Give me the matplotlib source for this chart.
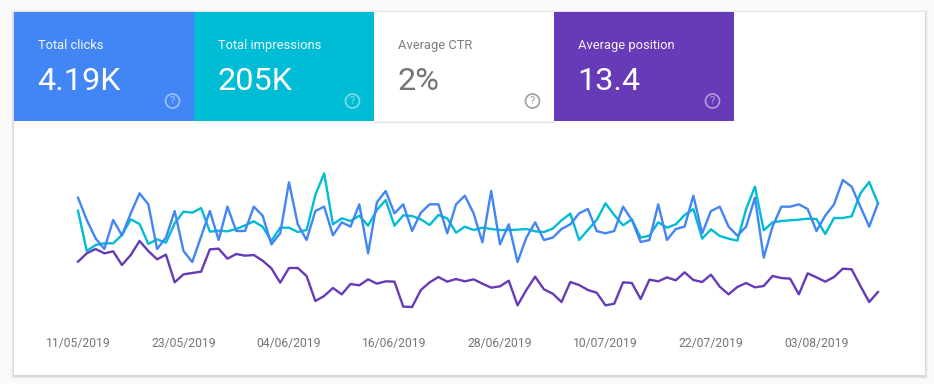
"""Search console performance card: four metric tiles over a three line chart"""
from matplotlib import pyplot as plt
from matplotlib.patches import Circle, Rectangle

plt.rcParams['font.family'] = ['Roboto', 'DejaVu Sans']

# tiles
tile_titles = ["Total clicks", "Total impressions", "Average CTR", "Average position"]
tile_values = ["4.19K", "205K", "2%", "13.4"]
tile_colors = ["#4285f4", "#00bcd4", "#ffffff", "#673ab7"]
tile_text = ["#ffffff", "#ffffff", "#757575", "#ffffff"]

# chart tick labels, one every 12 days
date_labels = ["11/05/2019", "23/05/2019", "04/06/2019", "16/06/2019",
               "28/06/2019", "10/07/2019", "22/07/2019", "03/08/2019"]

# values, in chart height units (0 to 510)
clicks = [397, 330, 275, 243, 330, 284, 350, 410, 377, 243, 277, 357, 237, 204, 280, 357,
          270, 370, 297, 297, 370, 343, 257, 290, 443, 317, 270, 357, 370, 284, 323, 310,
          377, 230, 383, 417, 350, 377, 297, 352, 377, 377, 290, 377, 403, 350, 263, 417,
          257, 317, 204, 277, 323, 270, 277, 303, 317, 350, 363, 297, 290, 297, 370, 330,
          264, 270, 377, 270, 303, 310, 403, 290, 357, 370, 310, 283, 310, 397, 217, 310,
          370, 370, 377, 363, 297, 343, 377, 450, 430, 370, 310, 380]
impressions = [358, 237, 255, 260, 260, 285, 332, 318, 258, 272, 262, 320, 355, 352, 366, 295,
               298, 296, 303, 314, 326, 310, 267, 307, 307, 294, 300, 405, 470, 317, 335, 327,
               343, 313, 360, 390, 313, 344, 342, 332, 315, 345, 335, 292, 310, 300, 307, 303,
               300, 300, 301, 303, 296, 294, 304, 329, 349, 270, 300, 330, 380, 345, 314, 332,
               277, 283, 323, 307, 317, 345, 363, 274, 302, 282, 274, 268, 363, 430, 299, 323,
               327, 329, 331, 334, 333, 288, 336, 336, 341, 410, 444, 380]
position = [205, 230, 243, 230, 236, 195, 225, 267, 237, 212, 226, 143, 167, 171, 175, 242,
            244, 214, 228, 223, 225, 208, 185, 142, 186, 186, 162, 87, 102, 126, 107, 138,
            134, 152, 139, 146, 145, 70, 69, 120, 143, 159, 145, 153, 146, 152, 139, 127,
            131, 148, 74, 120, 160, 122, 109, 84, 144, 135, 120, 112, 74, 79, 143, 141,
            93, 151, 146, 158, 149, 173, 150, 144, 166, 130, 107, 129, 141, 128, 132, 162,
            156, 154, 107, 170, 158, 145, 159, 184, 182, 132, 84, 114]

W, H = 934, 384
fig = plt.figure(figsize=(W / 100, H / 100), dpi=100, facecolor="#fafafa")

# pixel layer for the card and the tiles
bg = fig.add_axes([0, 0, 1, 1])
bg.set_xlim(0, W)
bg.set_ylim(H, 0)
bg.axis("off")

# soft card shadow
for grow, shade in [(3, "#f3f3f3"), (2, "#e9e9e9"), (1, "#d8d8d8")]:
    bg.add_patch(Rectangle((14 - grow, 12 - grow + 1), 911 + 2 * grow, 363 + 2 * grow,
                           color=shade, lw=0))
bg.add_patch(Rectangle((14, 12), 911, 363, color="white", lw=0))
bg.plot([374, 554], [121.5, 121.5], color="#e0e0e0", lw=1)

for i, title in enumerate(tile_titles):
    left = 14 + 180 * i
    bg.add_patch(Rectangle((left, 12), 180, 109, color=tile_colors[i], lw=0))
    bg.text(left + 24, 49, title, color=tile_text[i], fontsize=9.3, va="baseline", alpha=0.95)
    bg.text(left + 23.5, 90, tile_values[i], color=tile_text[i], fontsize=23.3, va="baseline")
    # help icon
    icon_alpha = 0.7 if i == 2 else 0.5
    bg.add_patch(Circle((left + 158.5, 101), 7, fill=False, lw=1.2,
                        ec=tile_text[i], alpha=icon_alpha))
    bg.text(left + 158.5, 101.2, "?", color=tile_text[i], fontsize=8,
            ha="center", va="center", alpha=icon_alpha)

# chart, spans pixels x 78 to 878 and y 160 to 330
ax = fig.add_axes([78 / W, (H - 330) / H, 800 / W, 170 / H])
ax.patch.set_alpha(0)
days = list(range(len(clicks)))
ax.plot(days, position, color="#673ab7", lw=1.7, clip_on=False)
ax.plot(days, impressions, color="#00bcd4", lw=1.7, clip_on=False)
ax.plot(days, clicks, color="#4285f4", lw=1.7, clip_on=False)
ax.set_xlim(0, 91)
ax.set_ylim(0, 510)
ax.set_yticks([])
ax.set_xticks(days[::12][:len(date_labels)])
ax.set_xticklabels(date_labels, color="#757575", fontsize=8.7)
ax.tick_params(axis="x", length=0, pad=5)
for spine in ax.spines.values():
    spine.set_visible(False)

fig.savefig("out.png", dpi=100, facecolor=fig.get_facecolor())
